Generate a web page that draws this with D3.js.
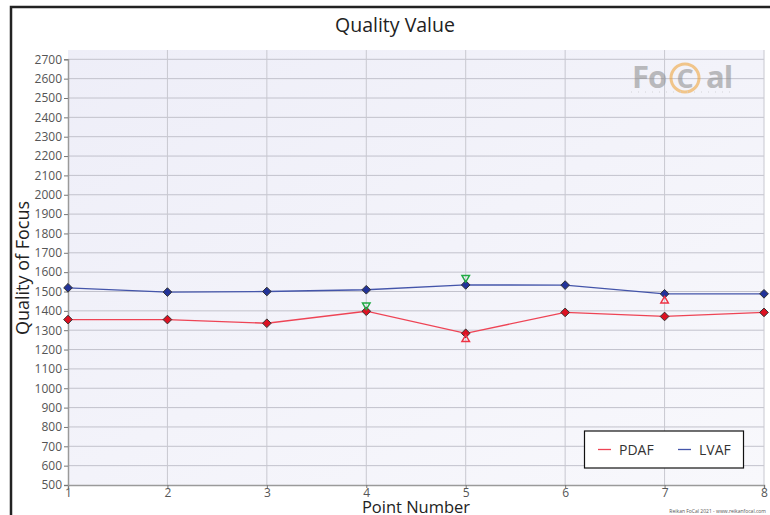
<!DOCTYPE html>
<html>
<head>
<meta charset="utf-8">
<script src="https://cdn.jsdelivr.net/npm/d3@7"></script>
<style>
  body { margin: 0; background: #fff; }
  svg { font-family: "Open Sans", "Noto Sans", sans-serif; }
</style>
</head>
<body>
<svg id="chart" width="770" height="515"></svg>
<script>
// données
const points = [1, 2, 3, 4, 5, 6, 7, 8];
const pdaf = [1355, 1355, 1336, 1398, 1284, 1392, 1371, 1392];
const lvaf = [1519, 1497, 1500, 1509, 1534, 1533, 1488, 1488];
// marqueurs triangles : [point, valeur]
const triBas = [[4, 1429], [5, 1571]];
const triHaut = [[5, 1253], [7, 1452]];
const yTicks = d3.range(500, 2701, 100);

var marge = {haut: 50, droite: 6, bas: 30, gauche: 68};
var largeur = 770, hauteur = 515;

const svg = d3.select('#chart');

// cadre noir
svg.append('path')
  .attr('d', `M11,515 V7 H770`)
  .attr('fill', 'none').attr('stroke', '#222').attr('stroke-width', 2.5);

var xScale = d3.scaleLinear().domain([1, 8]).range([marge.gauche, largeur - marge.droite]);
var yScale = d3.scaleLinear().domain([500, 2700]).range([485, 59.3]);

// fond du graphique
const defs = svg.append('defs');
const grad = defs.append('linearGradient').attr('id', 'fond')
  .attr('x1', '0').attr('y1', '0').attr('x2', '1').attr('y2', '1');
grad.append('stop').attr('offset', '0%').attr('stop-color', '#eeeef8');
grad.append('stop').attr('offset', '100%').attr('stop-color', '#f8f8fc');

svg.append('rect')
  .attr('x', marge.gauche).attr('y', marge.haut)
  .attr('width', xScale(8) - marge.gauche).attr('height', yScale(500) - marge.haut)
  .attr('fill', 'url(#fond)');

// grille
svg.append('g').selectAll('line').data(yTicks.slice(1)).enter().append('line')
  .attr('x1', marge.gauche).attr('x2', xScale(8))
  .attr('y1', d => yScale(d)).attr('y2', d => yScale(d))
  .attr('stroke', '#c2c2cc').attr('stroke-width', 1);
svg.append('g').selectAll('line').data(points.slice(1)).enter().append('line')
  .attr('x1', d => xScale(d)).attr('x2', d => xScale(d))
  .attr('y1', marge.haut).attr('y2', yScale(500))
  .attr('stroke', '#c8c8d0').attr('stroke-width', 1);

// logo FoCal
const logo = svg.append('g').attr('opacity', 0.55);
logo.append('text').attr('x', 632).attr('y', 88)
  .attr('font-size', 31).attr('font-weight', 'bold').attr('fill', '#8a8a8a')
  .attr('letter-spacing', -1).text('Fo');
logo.append('circle').attr('cx', 685).attr('cy', 78).attr('r', 14)
  .attr('fill', 'none').attr('stroke', '#f0a030').attr('stroke-width', 3);
logo.append('text').attr('x', 685).attr('y', 88).attr('text-anchor', 'middle')
  .attr('font-size', 27).attr('font-weight', 'bold').attr('fill', '#8a8a8a').text('C');
logo.append('text').attr('x', 706).attr('y', 88)
  .attr('font-size', 31).attr('font-weight', 'bold').attr('fill', '#8a8a8a')
  .attr('letter-spacing', -1).text('al');
logo.append('line').attr('x1', 631).attr('x2', 735).attr('y1', 92).attr('y2', 92)
  .attr('stroke', '#bbb').attr('stroke-width', 1).attr('stroke-dasharray', '1,6');

// axes
var xAxis = g => g
  .attr('transform', `translate(0, ${yScale(500)})`)
  .call(d3.axisBottom(xScale).tickValues(points).tickFormat(d3.format('d'))
    .tickSizeOuter(0).tickSize(3).tickPadding(0));
var yAxis = g => g
  .attr('transform', `translate(${marge.gauche},0)`)
  .call(d3.axisLeft(yScale).tickValues(yTicks).tickFormat(d3.format('d'))
    .tickSizeOuter(0).tickSize(4).tickPadding(2));

svg.append('g').call(xAxis);
svg.append('g').call(yAxis);
svg.selectAll('.domain').attr('stroke', '#9a9a9a').attr('stroke-width', 1.5);
svg.selectAll('.tick line').attr('stroke', '#777');
svg.selectAll('.tick text').attr('fill', '#555').attr('font-size', 12)
  .attr('font-family', '"Open Sans", sans-serif');

// séries
const ligne = d3.line().x((d, i) => xScale(points[i])).y(d => yScale(d));
const series = [
  {nom: 'PDAF', vals: pdaf, couleur: '#ee4455', remplissage: '#dd1122'},
  {nom: 'LVAF', vals: lvaf, couleur: '#4455aa', remplissage: '#223399'}
];
series.forEach(s => {
  svg.append('path').datum(s.vals)
    .attr('d', ligne).attr('fill', 'none')
    .attr('stroke', s.couleur).attr('stroke-width', 1.3);
  svg.append('g').selectAll('path').data(s.vals).enter().append('path')
    .attr('d', d3.symbol(d3.symbolDiamond2, 48))
    .attr('transform', (d, i) => `translate(${xScale(points[i])},${yScale(d)})`)
    .attr('fill', s.remplissage).attr('stroke', '#333').attr('stroke-width', 1);
});

// triangles
const tri = d3.symbol(d3.symbolTriangle2, 40);
svg.append('g').selectAll('path').data(triBas).enter().append('path')
  .attr('d', tri)
  .attr('transform', d => `translate(${xScale(d[0])},${yScale(d[1])}) rotate(180)`)
  .attr('fill', 'none').attr('stroke', '#22aa44').attr('stroke-width', 1.5);
svg.append('g').selectAll('path').data(triHaut).enter().append('path')
  .attr('d', tri)
  .attr('transform', d => `translate(${xScale(d[0])},${yScale(d[1])})`)
  .attr('fill', 'none').attr('stroke', '#ee3344').attr('stroke-width', 1.5);

// titres
svg.append('text').attr('x', 395).attr('y', 32).attr('text-anchor', 'middle')
  .attr('font-size', 19.5).attr('fill', '#222').text('Quality Value');
svg.append('text').attr('x', 416).attr('y', 513).attr('text-anchor', 'middle')
  .attr('font-size', 16.5).attr('fill', '#222').text('Point Number');
svg.append('text').attr('transform', 'translate(29,268) rotate(-90)').attr('text-anchor', 'middle')
  .attr('font-size', 18).attr('fill', '#222').text('Quality of Focus');

// légende
const leg = svg.append('g');
leg.append('rect').attr('x', 584.5).attr('y', 431).attr('width', 159).attr('height', 37)
  .attr('fill', '#fff').attr('stroke', '#111').attr('stroke-width', 1.2);
series.forEach((s, i) => {
  const x0 = 598 + i * 80;
  leg.append('line').attr('x1', x0).attr('x2', x0 + 13).attr('y1', 449.5).attr('y2', 449.5)
    .attr('stroke', s.couleur).attr('stroke-width', 1.3);
  leg.append('text').attr('x', x0 + 21).attr('y', 454.5)
    .attr('font-size', 14).attr('fill', '#333').text(s.nom);
});

// mention en bas
svg.append('text').attr('x', 766).attr('y', 513).attr('text-anchor', 'end')
  .attr('font-size', 5).attr('fill', '#555').text('Reikan FoCal 2021 - www.reikanfocal.com');
</script>
</body>
</html>
